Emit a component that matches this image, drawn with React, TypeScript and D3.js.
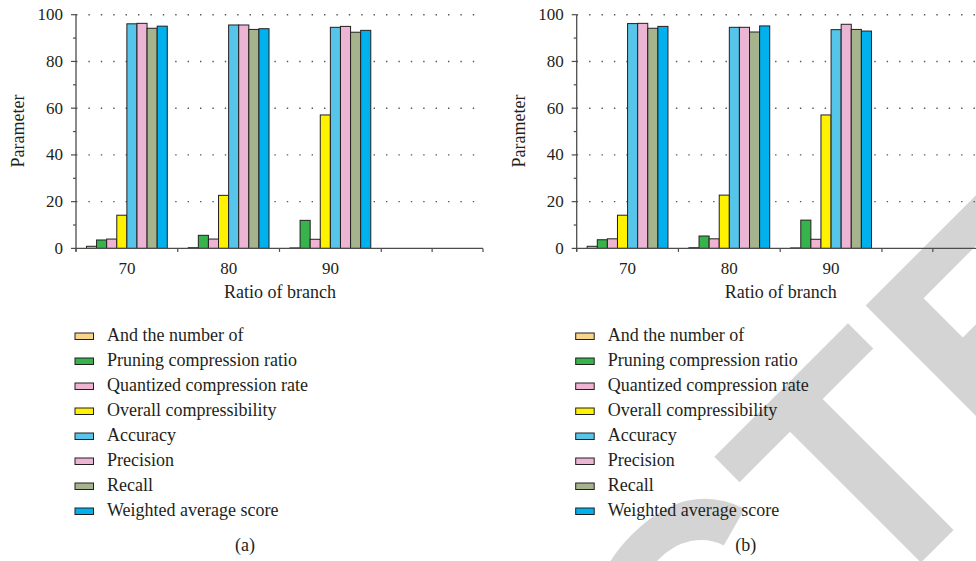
import * as d3 from 'd3';

// categories and tick values
const categories = [70, 80, 90];
const xTicks = [65, 75, 85, 95, 100, 105];
const yMajor = [0, 20, 40, 60, 80, 100];
const yMinor = [10, 30, 50, 70, 90];

const seriesNames = [
  'And the number of',
  'Pruning compression ratio',
  'Quantized compression rate',
  'Overall compressibility',
  'Accuracy',
  'Precision',
  'Recall',
  'Weighted average score',
];
const seriesColors = ['#f9d58c', '#36b34a', '#efb4d2', '#fff200', '#57c5ea', '#edb5d4', '#a5b48c', '#00b1ee'];

// panel (a)
const numberA = [0.9, 0.3, 0.2];
const pruningA = [3.6, 5.6, 12.0];
const quantA = [4.0, 4.0, 3.9];
const overallA = [14.2, 22.7, 57.1];
const accuracyA = [96.1, 95.6, 94.6];
const precisionA = [96.3, 95.6, 95.0];
const recallA = [94.2, 93.7, 92.5];
const weightedA = [95.1, 94.0, 93.3];

// panel (b)
const numberB = [0.9, 0.3, 0.2];
const pruningB = [3.7, 5.3, 12.1];
const quantB = [4.1, 4.1, 3.9];
const overallB = [14.2, 22.8, 57.1];
const accuracyB = [96.2, 94.6, 93.6];
const precisionB = [96.3, 94.6, 95.9];
const recallB = [94.2, 92.6, 93.7];
const weightedB = [95.0, 95.2, 93.0];

const panelA = [numberA, pruningA, quantA, overallA, accuracyA, precisionA, recallA, weightedA];
const panelB = [numberB, pruningB, quantB, overallB, accuracyB, precisionB, recallB, weightedB];

const FONT = '"Liberation Serif", "DejaVu Serif", serif';
const INK = '#231f20';

function Panel({ values, left, tag }: { values: number[][]; left: number; tag: string }) {
  const x0 = 76;
  const plotW = 407;
  const top = 14.7;
  const bottom = 248.4;

  const x = d3.scaleLinear().domain([65, 105]).range([x0, x0 + plotW]);
  const y = d3.scaleLinear().domain([0, 100]).range([bottom, top]);
  const step = x(80) - x(70);
  const inner = d3
    .scaleBand<number>()
    .domain(d3.range(seriesNames.length))
    .range([-step * 0.397, step * 0.397]);

  return (
    <g transform={`translate(${left},0)`}>
      {/* dotted grid */}
      {yMajor.filter(v => v > 0).map(v => (
        <line key={`g${v}`} x1={x0} x2={x0 + plotW} y1={y(v)} y2={y(v)}
          stroke="#555" strokeWidth={1.4} strokeDasharray="1.4,11" />
      ))}
      {/* bars */}
      {values.map((arr, si) =>
        arr.map((v, ci) => (
          <rect key={`b${si}-${ci}`}
            x={x(categories[ci]) + (inner(si) as number)}
            y={y(v)}
            width={inner.bandwidth()}
            height={bottom - y(v)}
            fill={seriesColors[si]} stroke={INK} strokeWidth={1} />
        ))
      )}
      {/* y axis */}
      <line x1={x0} x2={x0} y1={top} y2={bottom + 3} stroke="#4d4d4d" strokeWidth={1.3} />
      {yMajor.map(v => (
        <g key={`ym${v}`}>
          <line x1={x0 - 5} x2={x0} y1={y(v)} y2={y(v)} stroke="#4d4d4d" strokeWidth={1.2} />
          <text x={x0 - 13} y={y(v) + 5.5} textAnchor="end" fontSize={17} fontFamily={FONT} fill={INK}>{v}</text>
        </g>
      ))}
      {yMinor.map(v => (
        <line key={`yn${v}`} x1={x0 - 3} x2={x0} y1={y(v)} y2={y(v)} stroke="#4d4d4d" strokeWidth={1.2} />
      ))}
      {/* x axis */}
      <line x1={x0} x2={x0 + plotW} y1={bottom} y2={bottom} stroke="#4d4d4d" strokeWidth={1.4} />
      {xTicks.map(t => (
        <line key={`xt${t}`} x1={x(t)} x2={x(t)} y1={bottom} y2={bottom + 3.5} stroke="#4d4d4d" strokeWidth={1.2} />
      ))}
      {categories.map(c => (
        <text key={`xl${c}`} x={x(c)} y={274} textAnchor="middle" fontSize={17} fontFamily={FONT} fill={INK}>{c}</text>
      ))}
      <text x={x(85) + 0.5} y={297.5} textAnchor="middle" fontSize={18} fontFamily={FONT} fill={INK}>Ratio of branch</text>
      <text transform={`translate(24,131) rotate(-90)`} textAnchor="middle" fontSize={18} fontFamily={FONT} fill={INK}>Parameter</text>
      {/* legend */}
      {seriesNames.map((name, i) => (
        <g key={`lg${i}`} transform={`translate(75,${336 + i * 25})`}>
          <rect x={0} y={-3} width={18.5} height={6.5} fill={seriesColors[i]} stroke={INK} strokeWidth={1} />
          <text x={32} y={5} fontSize={18} fontFamily={FONT} fill={INK}>{name}</text>
        </g>
      ))}
      <text x={245} y={551} textAnchor="middle" fontSize={18} fontFamily={FONT} fill={INK}>{tag}</text>
    </g>
  );
}

export default function App() {
  return (
    <svg width={976} height={561} viewBox="0 0 976 561"
      style={{ position: 'absolute', left: 0, top: 0, background: '#fff', display: 'block' }}>
      <rect width={976} height={561} fill="#fff" />
      {/* watermark */}
      <text x={-1159} y={1049} transform="rotate(-45)" fontFamily='"Liberation Sans", Arial, sans-serif'
        fontWeight="bold" fontSize={321} fill="#d4d4d4">RETRACTED</text>
      <Panel values={panelA} left={0} tag="(a)" />
      <Panel values={panelB} left={500.7} tag="(b)" />
    </svg>
  );
}
